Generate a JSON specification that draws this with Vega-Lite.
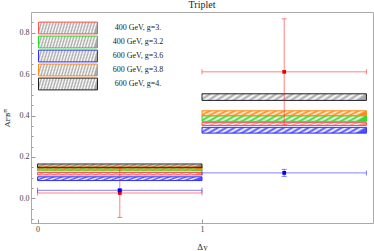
{
  "$schema": "https://vega.github.io/schema/vega-lite/v6.json",
  "width": 342,
  "height": 211,
  "autosize": "none",
  "padding": {"left": 31, "top": 12, "right": 1, "bottom": 28},
  "background": "white",
  "title": {"text": "Triplet", "font": "Liberation Serif", "fontSize": 10, "fontWeight": "normal", "color": "#222", "offset": 2},
  "config": {
    "view": {"stroke": "#aaaaaa", "strokeWidth": 1},
    "axis": {
      "labelFont": "Liberation Serif", "labelFontSize": 8, "labelColor": "#444",
      "titleFont": "Liberation Serif", "titleFontSize": 9, "titleFontWeight": "normal", "titleColor": "#333",
      "domainColor": "#aaaaaa", "tickColor": "#999999", "grid": false, "labelOverlap": false
    }
  },
  "datasets": {
    "bands": [
      {"model": "400 GeV, g=3.", "x0": 0, "x1": 1, "lo": 0.113, "hi": 0.125},
      {"model": "400 GeV, g=3.2", "x0": 0, "x1": 1, "lo": 0.133, "hi": 0.150},
      {"model": "600 GeV, g=3.6", "x0": 0, "x1": 1, "lo": 0.086, "hi": 0.104},
      {"model": "600 GeV, g=3.8", "x0": 0, "x1": 1, "lo": 0.138, "hi": 0.156},
      {"model": "600 GeV, g=4.", "x0": 0, "x1": 1, "lo": 0.148, "hi": 0.166},
      {"model": "400 GeV, g=3.", "x0": 1, "x1": 2, "lo": 0.352, "hi": 0.367},
      {"model": "400 GeV, g=3.2", "x0": 1, "x1": 2, "lo": 0.372, "hi": 0.399},
      {"model": "600 GeV, g=3.6", "x0": 1, "x1": 2, "lo": 0.315, "hi": 0.343},
      {"model": "600 GeV, g=3.8", "x0": 1, "x1": 2, "lo": 0.399, "hi": 0.423},
      {"model": "600 GeV, g=4.", "x0": 1, "x1": 2, "lo": 0.473, "hi": 0.505}
    ],
    "meas": [
      {"series": "CDF", "x0": 0, "x1": 1, "xc": 0.5, "y": 0.026, "ylo": -0.092, "yhi": 0.144},
      {"series": "CDF", "x0": 1, "x1": 2, "xc": 1.5, "y": 0.611, "ylo": 0.355, "yhi": 0.867},
      {"series": "MCFM", "x0": 0, "x1": 1, "xc": 0.5, "y": 0.039, "ylo": 0.034, "yhi": 0.044},
      {"series": "MCFM", "x0": 1, "x1": 2, "xc": 1.5, "y": 0.123, "ylo": 0.106, "yhi": 0.140}
    ]
  },
  "layer": [
    {
      "data": {"name": "bands"},
      "mark": {"type": "rect", "strokeWidth": 1},
      "encoding": {
        "x": {"field": "x0", "type": "quantitative", "scale": {"domain": [-0.04, 2.04], "nice": false, "zero": false},
          "axis": {"values": [0, 1], "format": "d", "title": "Δy", "tickSize": -4, "labelPadding": 6, "titlePadding": 9, "domain": false}},
        "x2": {"field": "x1"},
        "y": {"field": "lo", "type": "quantitative", "scale": {"domain": [-0.119, 0.9], "nice": false, "zero": false},
          "axis": {"values": [0, 0.2, 0.4, 0.6, 0.8], "format": ".1f", "tickSize": -4,
            "labelPadding": 6, "title": "Aꜰʙᵗᵗ̄", "titleFont": "DejaVu Serif", "titleFontSize": 8, "titlePadding": 8, "domain": false}},
        "y2": {"field": "hi"},
        "fill": {
          "condition": [
            {"test": "datum.model == '400 GeV, g=3.'", "value": {"gradient": "linear", "x1": 0, "y1": 0, "x2": 1, "y2": 0.06, "stops": [
              {"offset": 0, "color": "rgba(255,70,70,0.6)"}, {"offset": 0.025, "color": "rgba(255,70,70,0)"}, {"offset": 0.05, "color": "rgba(255,70,70,0.6)"}, {"offset": 0.075, "color": "rgba(255,70,70,0)"},
              {"offset": 0.1, "color": "rgba(255,70,70,0.6)"}, {"offset": 0.125, "color": "rgba(255,70,70,0)"}, {"offset": 0.15, "color": "rgba(255,70,70,0.6)"}, {"offset": 0.175, "color": "rgba(255,70,70,0)"},
              {"offset": 0.2, "color": "rgba(255,70,70,0.6)"}, {"offset": 0.225, "color": "rgba(255,70,70,0)"}, {"offset": 0.25, "color": "rgba(255,70,70,0.6)"}, {"offset": 0.275, "color": "rgba(255,70,70,0)"},
              {"offset": 0.3, "color": "rgba(255,70,70,0.6)"}, {"offset": 0.325, "color": "rgba(255,70,70,0)"}, {"offset": 0.35, "color": "rgba(255,70,70,0.6)"}, {"offset": 0.375, "color": "rgba(255,70,70,0)"},
              {"offset": 0.4, "color": "rgba(255,70,70,0.6)"}, {"offset": 0.425, "color": "rgba(255,70,70,0)"}, {"offset": 0.45, "color": "rgba(255,70,70,0.6)"}, {"offset": 0.475, "color": "rgba(255,70,70,0)"},
              {"offset": 0.5, "color": "rgba(255,70,70,0.6)"}, {"offset": 0.525, "color": "rgba(255,70,70,0)"}, {"offset": 0.55, "color": "rgba(255,70,70,0.6)"}, {"offset": 0.575, "color": "rgba(255,70,70,0)"},
              {"offset": 0.6, "color": "rgba(255,70,70,0.6)"}, {"offset": 0.625, "color": "rgba(255,70,70,0)"}, {"offset": 0.65, "color": "rgba(255,70,70,0.6)"}, {"offset": 0.675, "color": "rgba(255,70,70,0)"},
              {"offset": 0.7, "color": "rgba(255,70,70,0.6)"}, {"offset": 0.725, "color": "rgba(255,70,70,0)"}, {"offset": 0.75, "color": "rgba(255,70,70,0.6)"}, {"offset": 0.775, "color": "rgba(255,70,70,0)"},
              {"offset": 0.8, "color": "rgba(255,70,70,0.6)"}, {"offset": 0.825, "color": "rgba(255,70,70,0)"}, {"offset": 0.85, "color": "rgba(255,70,70,0.6)"}, {"offset": 0.875, "color": "rgba(255,70,70,0)"},
              {"offset": 0.9, "color": "rgba(255,70,70,0.6)"}, {"offset": 0.925, "color": "rgba(255,70,70,0)"}, {"offset": 0.95, "color": "rgba(255,70,70,0.6)"}, {"offset": 0.975, "color": "rgba(255,70,70,0)"},
              {"offset": 1, "color": "rgba(255,70,70,0.6)"}]}},
            {"test": "datum.model == '400 GeV, g=3.2'", "value": {"gradient": "linear", "x1": 0, "y1": 0, "x2": 1, "y2": 0.06, "stops": [
              {"offset": 0, "color": "rgba(30,215,30,0.9)"}, {"offset": 0.025, "color": "rgba(30,215,30,0)"}, {"offset": 0.05, "color": "rgba(30,215,30,0.9)"}, {"offset": 0.075, "color": "rgba(30,215,30,0)"},
              {"offset": 0.1, "color": "rgba(30,215,30,0.9)"}, {"offset": 0.125, "color": "rgba(30,215,30,0)"}, {"offset": 0.15, "color": "rgba(30,215,30,0.9)"}, {"offset": 0.175, "color": "rgba(30,215,30,0)"},
              {"offset": 0.2, "color": "rgba(30,215,30,0.9)"}, {"offset": 0.225, "color": "rgba(30,215,30,0)"}, {"offset": 0.25, "color": "rgba(30,215,30,0.9)"}, {"offset": 0.275, "color": "rgba(30,215,30,0)"},
              {"offset": 0.3, "color": "rgba(30,215,30,0.9)"}, {"offset": 0.325, "color": "rgba(30,215,30,0)"}, {"offset": 0.35, "color": "rgba(30,215,30,0.9)"}, {"offset": 0.375, "color": "rgba(30,215,30,0)"},
              {"offset": 0.4, "color": "rgba(30,215,30,0.9)"}, {"offset": 0.425, "color": "rgba(30,215,30,0)"}, {"offset": 0.45, "color": "rgba(30,215,30,0.9)"}, {"offset": 0.475, "color": "rgba(30,215,30,0)"},
              {"offset": 0.5, "color": "rgba(30,215,30,0.9)"}, {"offset": 0.525, "color": "rgba(30,215,30,0)"}, {"offset": 0.55, "color": "rgba(30,215,30,0.9)"}, {"offset": 0.575, "color": "rgba(30,215,30,0)"},
              {"offset": 0.6, "color": "rgba(30,215,30,0.9)"}, {"offset": 0.625, "color": "rgba(30,215,30,0)"}, {"offset": 0.65, "color": "rgba(30,215,30,0.9)"}, {"offset": 0.675, "color": "rgba(30,215,30,0)"},
              {"offset": 0.7, "color": "rgba(30,215,30,0.9)"}, {"offset": 0.725, "color": "rgba(30,215,30,0)"}, {"offset": 0.75, "color": "rgba(30,215,30,0.9)"}, {"offset": 0.775, "color": "rgba(30,215,30,0)"},
              {"offset": 0.8, "color": "rgba(30,215,30,0.9)"}, {"offset": 0.825, "color": "rgba(30,215,30,0)"}, {"offset": 0.85, "color": "rgba(30,215,30,0.9)"}, {"offset": 0.875, "color": "rgba(30,215,30,0)"},
              {"offset": 0.9, "color": "rgba(30,215,30,0.9)"}, {"offset": 0.925, "color": "rgba(30,215,30,0)"}, {"offset": 0.95, "color": "rgba(30,215,30,0.9)"}, {"offset": 0.975, "color": "rgba(30,215,30,0)"},
              {"offset": 1, "color": "rgba(30,215,30,0.9)"}]}},
            {"test": "datum.model == '600 GeV, g=3.6'", "value": {"gradient": "linear", "x1": 0, "y1": 0, "x2": 1, "y2": 0.06, "stops": [
              {"offset": 0, "color": "rgba(50,50,255,0.85)"}, {"offset": 0.025, "color": "rgba(50,50,255,0)"}, {"offset": 0.05, "color": "rgba(50,50,255,0.85)"}, {"offset": 0.075, "color": "rgba(50,50,255,0)"},
              {"offset": 0.1, "color": "rgba(50,50,255,0.85)"}, {"offset": 0.125, "color": "rgba(50,50,255,0)"}, {"offset": 0.15, "color": "rgba(50,50,255,0.85)"}, {"offset": 0.175, "color": "rgba(50,50,255,0)"},
              {"offset": 0.2, "color": "rgba(50,50,255,0.85)"}, {"offset": 0.225, "color": "rgba(50,50,255,0)"}, {"offset": 0.25, "color": "rgba(50,50,255,0.85)"}, {"offset": 0.275, "color": "rgba(50,50,255,0)"},
              {"offset": 0.3, "color": "rgba(50,50,255,0.85)"}, {"offset": 0.325, "color": "rgba(50,50,255,0)"}, {"offset": 0.35, "color": "rgba(50,50,255,0.85)"}, {"offset": 0.375, "color": "rgba(50,50,255,0)"},
              {"offset": 0.4, "color": "rgba(50,50,255,0.85)"}, {"offset": 0.425, "color": "rgba(50,50,255,0)"}, {"offset": 0.45, "color": "rgba(50,50,255,0.85)"}, {"offset": 0.475, "color": "rgba(50,50,255,0)"},
              {"offset": 0.5, "color": "rgba(50,50,255,0.85)"}, {"offset": 0.525, "color": "rgba(50,50,255,0)"}, {"offset": 0.55, "color": "rgba(50,50,255,0.85)"}, {"offset": 0.575, "color": "rgba(50,50,255,0)"},
              {"offset": 0.6, "color": "rgba(50,50,255,0.85)"}, {"offset": 0.625, "color": "rgba(50,50,255,0)"}, {"offset": 0.65, "color": "rgba(50,50,255,0.85)"}, {"offset": 0.675, "color": "rgba(50,50,255,0)"},
              {"offset": 0.7, "color": "rgba(50,50,255,0.85)"}, {"offset": 0.725, "color": "rgba(50,50,255,0)"}, {"offset": 0.75, "color": "rgba(50,50,255,0.85)"}, {"offset": 0.775, "color": "rgba(50,50,255,0)"},
              {"offset": 0.8, "color": "rgba(50,50,255,0.85)"}, {"offset": 0.825, "color": "rgba(50,50,255,0)"}, {"offset": 0.85, "color": "rgba(50,50,255,0.85)"}, {"offset": 0.875, "color": "rgba(50,50,255,0)"},
              {"offset": 0.9, "color": "rgba(50,50,255,0.85)"}, {"offset": 0.925, "color": "rgba(50,50,255,0)"}, {"offset": 0.95, "color": "rgba(50,50,255,0.85)"}, {"offset": 0.975, "color": "rgba(50,50,255,0)"},
              {"offset": 1, "color": "rgba(50,50,255,0.85)"}]}},
            {"test": "datum.model == '600 GeV, g=3.8'", "value": {"gradient": "linear", "x1": 0, "y1": 0, "x2": 1, "y2": 0.06, "stops": [
              {"offset": 0, "color": "rgba(255,140,26,1)"}, {"offset": 0.025, "color": "rgba(255,140,26,0.1)"}, {"offset": 0.05, "color": "rgba(255,140,26,1)"}, {"offset": 0.075, "color": "rgba(255,140,26,0.1)"},
              {"offset": 0.1, "color": "rgba(255,140,26,1)"}, {"offset": 0.125, "color": "rgba(255,140,26,0.1)"}, {"offset": 0.15, "color": "rgba(255,140,26,1)"}, {"offset": 0.175, "color": "rgba(255,140,26,0.1)"},
              {"offset": 0.2, "color": "rgba(255,140,26,1)"}, {"offset": 0.225, "color": "rgba(255,140,26,0.1)"}, {"offset": 0.25, "color": "rgba(255,140,26,1)"}, {"offset": 0.275, "color": "rgba(255,140,26,0.1)"},
              {"offset": 0.3, "color": "rgba(255,140,26,1)"}, {"offset": 0.325, "color": "rgba(255,140,26,0.1)"}, {"offset": 0.35, "color": "rgba(255,140,26,1)"}, {"offset": 0.375, "color": "rgba(255,140,26,0.1)"},
              {"offset": 0.4, "color": "rgba(255,140,26,1)"}, {"offset": 0.425, "color": "rgba(255,140,26,0.1)"}, {"offset": 0.45, "color": "rgba(255,140,26,1)"}, {"offset": 0.475, "color": "rgba(255,140,26,0.1)"},
              {"offset": 0.5, "color": "rgba(255,140,26,1)"}, {"offset": 0.525, "color": "rgba(255,140,26,0.1)"}, {"offset": 0.55, "color": "rgba(255,140,26,1)"}, {"offset": 0.575, "color": "rgba(255,140,26,0.1)"},
              {"offset": 0.6, "color": "rgba(255,140,26,1)"}, {"offset": 0.625, "color": "rgba(255,140,26,0.1)"}, {"offset": 0.65, "color": "rgba(255,140,26,1)"}, {"offset": 0.675, "color": "rgba(255,140,26,0.1)"},
              {"offset": 0.7, "color": "rgba(255,140,26,1)"}, {"offset": 0.725, "color": "rgba(255,140,26,0.1)"}, {"offset": 0.75, "color": "rgba(255,140,26,1)"}, {"offset": 0.775, "color": "rgba(255,140,26,0.1)"},
              {"offset": 0.8, "color": "rgba(255,140,26,1)"}, {"offset": 0.825, "color": "rgba(255,140,26,0.1)"}, {"offset": 0.85, "color": "rgba(255,140,26,1)"}, {"offset": 0.875, "color": "rgba(255,140,26,0.1)"},
              {"offset": 0.9, "color": "rgba(255,140,26,1)"}, {"offset": 0.925, "color": "rgba(255,140,26,0.1)"}, {"offset": 0.95, "color": "rgba(255,140,26,1)"}, {"offset": 0.975, "color": "rgba(255,140,26,0.1)"},
              {"offset": 1, "color": "rgba(255,140,26,1)"}]}}
          ],
          "value": {"gradient": "linear", "x1": 0, "y1": 0, "x2": 1, "y2": 0.06, "stops": [
              {"offset": 0, "color": "rgba(40,40,40,0.4)"}, {"offset": 0.025, "color": "rgba(40,40,40,0)"}, {"offset": 0.05, "color": "rgba(40,40,40,0.4)"}, {"offset": 0.075, "color": "rgba(40,40,40,0)"},
              {"offset": 0.1, "color": "rgba(40,40,40,0.4)"}, {"offset": 0.125, "color": "rgba(40,40,40,0)"}, {"offset": 0.15, "color": "rgba(40,40,40,0.4)"}, {"offset": 0.175, "color": "rgba(40,40,40,0)"},
              {"offset": 0.2, "color": "rgba(40,40,40,0.4)"}, {"offset": 0.225, "color": "rgba(40,40,40,0)"}, {"offset": 0.25, "color": "rgba(40,40,40,0.4)"}, {"offset": 0.275, "color": "rgba(40,40,40,0)"},
              {"offset": 0.3, "color": "rgba(40,40,40,0.4)"}, {"offset": 0.325, "color": "rgba(40,40,40,0)"}, {"offset": 0.35, "color": "rgba(40,40,40,0.4)"}, {"offset": 0.375, "color": "rgba(40,40,40,0)"},
              {"offset": 0.4, "color": "rgba(40,40,40,0.4)"}, {"offset": 0.425, "color": "rgba(40,40,40,0)"}, {"offset": 0.45, "color": "rgba(40,40,40,0.4)"}, {"offset": 0.475, "color": "rgba(40,40,40,0)"},
              {"offset": 0.5, "color": "rgba(40,40,40,0.4)"}, {"offset": 0.525, "color": "rgba(40,40,40,0)"}, {"offset": 0.55, "color": "rgba(40,40,40,0.4)"}, {"offset": 0.575, "color": "rgba(40,40,40,0)"},
              {"offset": 0.6, "color": "rgba(40,40,40,0.4)"}, {"offset": 0.625, "color": "rgba(40,40,40,0)"}, {"offset": 0.65, "color": "rgba(40,40,40,0.4)"}, {"offset": 0.675, "color": "rgba(40,40,40,0)"},
              {"offset": 0.7, "color": "rgba(40,40,40,0.4)"}, {"offset": 0.725, "color": "rgba(40,40,40,0)"}, {"offset": 0.75, "color": "rgba(40,40,40,0.4)"}, {"offset": 0.775, "color": "rgba(40,40,40,0)"},
              {"offset": 0.8, "color": "rgba(40,40,40,0.4)"}, {"offset": 0.825, "color": "rgba(40,40,40,0)"}, {"offset": 0.85, "color": "rgba(40,40,40,0.4)"}, {"offset": 0.875, "color": "rgba(40,40,40,0)"},
              {"offset": 0.9, "color": "rgba(40,40,40,0.4)"}, {"offset": 0.925, "color": "rgba(40,40,40,0)"}, {"offset": 0.95, "color": "rgba(40,40,40,0.4)"}, {"offset": 0.975, "color": "rgba(40,40,40,0)"},
              {"offset": 1, "color": "rgba(40,40,40,0.4)"}]}
        },
        "stroke": {"field": "model", "type": "nominal",
          "scale": {"domain": ["400 GeV, g=3.", "400 GeV, g=3.2", "600 GeV, g=3.6", "600 GeV, g=3.8", "600 GeV, g=4."],
            "range": ["#ff5050", "#22dd22", "#3030ff", "#ff8c1a", "#222222"]},
          "legend": {"orient": "none", "legendX": 7, "legendY": 9, "title": null, "symbolType": "M-1,-0.2H1V0.2H-1Z",
            "symbolSize": 3481, "clipHeight": 14, "rowPadding": -2, "labelOffset": 40, "labelAlign": "center",
            "labelFont": "Liberation Serif", "labelFontSize": 8, "labelColor": "#222", "symbolStrokeWidth": 1, "symbolOpacity": 1,
            "encode": {"symbols": {"update": {"fill": [
              {"test": "datum.value == '400 GeV, g=3.'", "value": {"gradient": "linear", "x1": 0, "y1": 0, "x2": 1, "y2": 0.33, "stops": [
                {"offset": 0, "color": "rgba(255,70,70,0.6)"}, {"offset": 0.0625, "color": "rgba(255,70,70,0)"}, {"offset": 0.125, "color": "rgba(255,70,70,0.6)"}, {"offset": 0.1875, "color": "rgba(255,70,70,0)"},
                {"offset": 0.25, "color": "rgba(255,70,70,0.6)"}, {"offset": 0.3125, "color": "rgba(255,70,70,0)"}, {"offset": 0.375, "color": "rgba(255,70,70,0.6)"}, {"offset": 0.4375, "color": "rgba(255,70,70,0)"},
                {"offset": 0.5, "color": "rgba(255,70,70,0.6)"}, {"offset": 0.5625, "color": "rgba(255,70,70,0)"}, {"offset": 0.625, "color": "rgba(255,70,70,0.6)"}, {"offset": 0.6875, "color": "rgba(255,70,70,0)"},
                {"offset": 0.75, "color": "rgba(255,70,70,0.6)"}, {"offset": 0.8125, "color": "rgba(255,70,70,0)"}, {"offset": 0.875, "color": "rgba(255,70,70,0.6)"}, {"offset": 0.9375, "color": "rgba(255,70,70,0)"},
                {"offset": 1, "color": "rgba(255,70,70,0)"}]}},
              {"test": "datum.value == '400 GeV, g=3.2'", "value": {"gradient": "linear", "x1": 0, "y1": 0, "x2": 1, "y2": 0.33, "stops": [
                {"offset": 0, "color": "rgba(30,215,30,0.9)"}, {"offset": 0.0625, "color": "rgba(30,215,30,0)"}, {"offset": 0.125, "color": "rgba(30,215,30,0.9)"}, {"offset": 0.1875, "color": "rgba(30,215,30,0)"},
                {"offset": 0.25, "color": "rgba(30,215,30,0.9)"}, {"offset": 0.3125, "color": "rgba(30,215,30,0)"}, {"offset": 0.375, "color": "rgba(30,215,30,0.9)"}, {"offset": 0.4375, "color": "rgba(30,215,30,0)"},
                {"offset": 0.5, "color": "rgba(30,215,30,0.9)"}, {"offset": 0.5625, "color": "rgba(30,215,30,0)"}, {"offset": 0.625, "color": "rgba(30,215,30,0.9)"}, {"offset": 0.6875, "color": "rgba(30,215,30,0)"},
                {"offset": 0.75, "color": "rgba(30,215,30,0.9)"}, {"offset": 0.8125, "color": "rgba(30,215,30,0)"}, {"offset": 0.875, "color": "rgba(30,215,30,0.9)"}, {"offset": 0.9375, "color": "rgba(30,215,30,0)"},
                {"offset": 1, "color": "rgba(30,215,30,0)"}]}},
              {"test": "datum.value == '600 GeV, g=3.6'", "value": {"gradient": "linear", "x1": 0, "y1": 0, "x2": 1, "y2": 0.33, "stops": [
                {"offset": 0, "color": "rgba(50,50,255,0.85)"}, {"offset": 0.0625, "color": "rgba(50,50,255,0)"}, {"offset": 0.125, "color": "rgba(50,50,255,0.85)"}, {"offset": 0.1875, "color": "rgba(50,50,255,0)"},
                {"offset": 0.25, "color": "rgba(50,50,255,0.85)"}, {"offset": 0.3125, "color": "rgba(50,50,255,0)"}, {"offset": 0.375, "color": "rgba(50,50,255,0.85)"}, {"offset": 0.4375, "color": "rgba(50,50,255,0)"},
                {"offset": 0.5, "color": "rgba(50,50,255,0.85)"}, {"offset": 0.5625, "color": "rgba(50,50,255,0)"}, {"offset": 0.625, "color": "rgba(50,50,255,0.85)"}, {"offset": 0.6875, "color": "rgba(50,50,255,0)"},
                {"offset": 0.75, "color": "rgba(50,50,255,0.85)"}, {"offset": 0.8125, "color": "rgba(50,50,255,0)"}, {"offset": 0.875, "color": "rgba(50,50,255,0.85)"}, {"offset": 0.9375, "color": "rgba(50,50,255,0)"},
                {"offset": 1, "color": "rgba(50,50,255,0)"}]}},
              {"test": "datum.value == '600 GeV, g=3.8'", "value": {"gradient": "linear", "x1": 0, "y1": 0, "x2": 1, "y2": 0.33, "stops": [
                {"offset": 0, "color": "rgba(255,140,26,1)"}, {"offset": 0.0625, "color": "rgba(255,140,26,0.1)"}, {"offset": 0.125, "color": "rgba(255,140,26,1)"}, {"offset": 0.1875, "color": "rgba(255,140,26,0.1)"},
                {"offset": 0.25, "color": "rgba(255,140,26,1)"}, {"offset": 0.3125, "color": "rgba(255,140,26,0.1)"}, {"offset": 0.375, "color": "rgba(255,140,26,1)"}, {"offset": 0.4375, "color": "rgba(255,140,26,0.1)"},
                {"offset": 0.5, "color": "rgba(255,140,26,1)"}, {"offset": 0.5625, "color": "rgba(255,140,26,0.1)"}, {"offset": 0.625, "color": "rgba(255,140,26,1)"}, {"offset": 0.6875, "color": "rgba(255,140,26,0.1)"},
                {"offset": 0.75, "color": "rgba(255,140,26,1)"}, {"offset": 0.8125, "color": "rgba(255,140,26,0.1)"}, {"offset": 0.875, "color": "rgba(255,140,26,1)"}, {"offset": 0.9375, "color": "rgba(255,140,26,0.1)"},
                {"offset": 1, "color": "rgba(255,140,26,0.1)"}]}},
              {"value": {"gradient": "linear", "x1": 0, "y1": 0, "x2": 1, "y2": 0.33, "stops": [
                {"offset": 0, "color": "rgba(40,40,40,0.4)"}, {"offset": 0.0625, "color": "rgba(40,40,40,0)"}, {"offset": 0.125, "color": "rgba(40,40,40,0.4)"}, {"offset": 0.1875, "color": "rgba(40,40,40,0)"},
                {"offset": 0.25, "color": "rgba(40,40,40,0.4)"}, {"offset": 0.3125, "color": "rgba(40,40,40,0)"}, {"offset": 0.375, "color": "rgba(40,40,40,0.4)"}, {"offset": 0.4375, "color": "rgba(40,40,40,0)"},
                {"offset": 0.5, "color": "rgba(40,40,40,0.4)"}, {"offset": 0.5625, "color": "rgba(40,40,40,0)"}, {"offset": 0.625, "color": "rgba(40,40,40,0.4)"}, {"offset": 0.6875, "color": "rgba(40,40,40,0)"},
                {"offset": 0.75, "color": "rgba(40,40,40,0.4)"}, {"offset": 0.8125, "color": "rgba(40,40,40,0)"}, {"offset": 0.875, "color": "rgba(40,40,40,0.4)"}, {"offset": 0.9375, "color": "rgba(40,40,40,0)"},
                {"offset": 1, "color": "rgba(40,40,40,0)"}]}}
            ]}}}}},
        "strokeDash": {"field": "model", "type": "nominal",
          "scale": {"domain": ["400 GeV, g=3.", "400 GeV, g=3.2", "600 GeV, g=3.6", "600 GeV, g=3.8", "600 GeV, g=4."],
            "range": [[1, 1.5], [1, 0], [4, 2], [1, 0], [1, 2]]}}
      }
    },
    {
      "data": {"name": "meas"},
      "mark": {"type": "rule", "strokeWidth": 1, "opacity": 0.6},
      "encoding": {
        "x": {"field": "x0", "type": "quantitative"},
        "x2": {"field": "x1"},
        "y": {"field": "y", "type": "quantitative",
          "axis": {"orient": "left", "values": [-0.1, -0.05, 0.05, 0.1, 0.15, 0.25, 0.3, 0.35, 0.45, 0.5, 0.55, 0.65, 0.7, 0.75, 0.85],
            "tickSize": -2, "labels": false, "domain": false, "title": null}},
        "color": {"condition": {"test": "datum.series == 'CDF'", "value": "#ff3030"}, "value": "#3030ff"}
      }
    },
    {
      "data": {"name": "meas"},
      "mark": {"type": "rule", "strokeWidth": 1, "opacity": 0.6},
      "encoding": {
        "x": {"field": "xc", "type": "quantitative"},
        "y": {"field": "ylo", "type": "quantitative", "axis": null},
        "y2": {"field": "yhi"},
        "color": {"condition": {"test": "datum.series == 'CDF'", "value": "#ff3030"}, "value": "#3030ff"}
      }
    },
    {
      "data": {"name": "meas"},
      "mark": {"type": "tick", "orient": "vertical", "size": 5, "thickness": 1, "opacity": 0.6},
      "encoding": {
        "x": {"field": "x0", "type": "quantitative"},
        "y": {"field": "y", "type": "quantitative", "axis": null},
        "color": {"condition": {"test": "datum.series == 'CDF'", "value": "#ff3030"}, "value": "#3030ff"}
      }
    },
    {
      "data": {"name": "meas"},
      "mark": {"type": "tick", "orient": "vertical", "size": 5, "thickness": 1, "opacity": 0.6},
      "encoding": {
        "x": {"field": "x1", "type": "quantitative"},
        "y": {"field": "y", "type": "quantitative", "axis": null},
        "color": {"condition": {"test": "datum.series == 'CDF'", "value": "#ff3030"}, "value": "#3030ff"}
      }
    },
    {
      "data": {"name": "meas"},
      "mark": {"type": "tick", "orient": "horizontal", "size": 5, "thickness": 1, "opacity": 0.6},
      "encoding": {
        "x": {"field": "xc", "type": "quantitative"},
        "y": {"field": "ylo", "type": "quantitative", "axis": null},
        "color": {"condition": {"test": "datum.series == 'CDF'", "value": "#ff3030"}, "value": "#3030ff"}
      }
    },
    {
      "data": {"name": "meas"},
      "mark": {"type": "tick", "orient": "horizontal", "size": 5, "thickness": 1, "opacity": 0.6},
      "encoding": {
        "x": {"field": "xc", "type": "quantitative"},
        "y": {"field": "yhi", "type": "quantitative", "axis": null},
        "color": {"condition": {"test": "datum.series == 'CDF'", "value": "#ff3030"}, "value": "#3030ff"}
      }
    },
    {
      "data": {"name": "meas"},
      "mark": {"type": "square", "size": 14, "opacity": 1, "filled": true},
      "encoding": {
        "x": {"field": "xc", "type": "quantitative"},
        "y": {"field": "y", "type": "quantitative", "axis": null},
        "color": {"condition": {"test": "datum.series == 'CDF'", "value": "#ee0000"}, "value": "#0000ee"}
      }
    }
  ],
  "resolve": {"axis": {"y": "independent"}}
}
